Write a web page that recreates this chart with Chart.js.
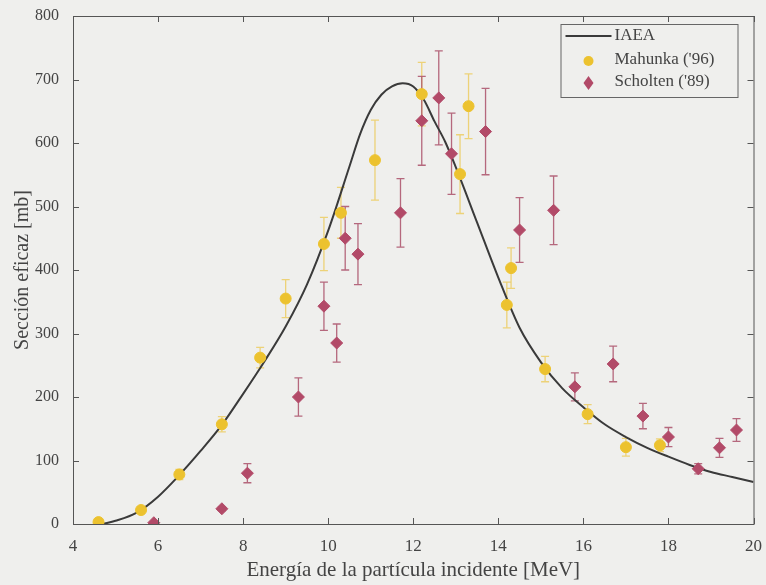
<!DOCTYPE html>
<html>
<head>
<meta charset="utf-8">
<script src="https://cdn.jsdelivr.net/npm/chart.js@4"></script>
<style>
html, body { margin: 0; padding: 0; background: #efefed; }
canvas { display: block; }
</style>
</head>
<body>
<canvas id="myChart" width="766" height="585"></canvas>
<script>
// curva IAEA
const iaeaE = [4.7, 5, 5.5, 6, 6.5, 7, 7.5, 8, 8.5, 9, 9.5, 10, 10.5, 10.75, 11, 11.25, 11.5, 11.75, 12, 12.25, 12.5, 12.75, 13, 13.5, 14, 14.5, 15, 15.5, 16, 16.5, 17, 17.5, 18, 18.5, 19, 19.5, 20];
const iaeaSigma = [0, 5, 18, 43, 77, 115, 156, 205, 256, 311, 377, 462, 563, 614, 652, 676, 689, 694, 689, 668, 634, 602, 562, 475, 388, 309, 255, 214, 184, 157, 137, 120, 106, 93, 82, 74, 66];

// Mahunka ('96)
const mahunkaE = [4.6, 5.6, 6.5, 7.5, 8.4, 9.0, 9.9, 10.3, 11.1, 12.2, 13.1, 13.3, 14.2, 14.3, 15.1, 16.1, 17.0, 17.8];
const mahunkaSigma = [3, 22, 78, 157, 262, 355, 441, 490, 573, 677, 551, 658, 345, 403, 244, 173, 121, 124];
const mahunkaErr = [2, 4, 8, 12, 16, 30, 42, 40, 63, 50, 62, 51, 36, 32, 20, 15, 14, 10];

// Scholten ('89)
const scholtenE = [5.9, 7.5, 8.1, 9.3, 9.9, 10.2, 10.4, 10.7, 11.7, 12.2, 12.6, 12.9, 13.7, 14.5, 15.3, 15.8, 16.7, 17.4, 18.0, 18.7, 19.2, 19.6];
const scholtenSigma = [2, 24, 80, 200, 343, 285, 450, 425, 490, 635, 671, 583, 618, 463, 494, 216, 252, 170, 137, 87, 120, 148];
const scholtenErr = [0, 3, 15, 30, 38, 30, 50, 48, 54, 70, 74, 64, 68, 51, 54, 22, 28, 20, 15, 8, 15, 18];

const xTicks = [4, 6, 8, 10, 12, 14, 16, 18, 20];
const yTicks = [0, 100, 200, 300, 400, 500, 600, 700, 800];

const amarillo = 'rgb(236,194,47)';
const granate = 'rgb(178,74,104)';
const serif = "'Liberation Serif', 'DejaVu Serif', serif";

function pares(xs, ys) {
    return xs.map((x, i) => ({ x: x, y: ys[i] }));
}

const barrasError = {
    id: 'barrasError',
    beforeDatasetsDraw(chart) {
        const ctx = chart.ctx, sx = chart.scales.x, sy = chart.scales.y;
        chart.data.datasets.forEach(ds => {
            if (!ds.errores) return;
            ctx.save();
            ctx.strokeStyle = ds.colorError;
            ctx.lineWidth = 1.3;
            ds.data.forEach((p, i) => {
                const e = ds.errores[i];
                if (!e) return;
                const px = sx.getPixelForValue(p.x);
                const y1 = sy.getPixelForValue(p.y + e);
                const y2 = sy.getPixelForValue(p.y - e);
                ctx.beginPath();
                ctx.moveTo(px, y1); ctx.lineTo(px, y2);
                ctx.moveTo(px - 4, y1); ctx.lineTo(px + 4, y1);
                ctx.moveTo(px - 4, y2); ctx.lineTo(px + 4, y2);
                ctx.stroke();
            });
            ctx.restore();
        });
    }
};

// caja y ticks hacia dentro, estilo matlab
const caja = {
    id: 'caja',
    afterDatasetsDraw(chart) {
        const ctx = chart.ctx, a = chart.chartArea, sx = chart.scales.x, sy = chart.scales.y;
        ctx.save();
        ctx.strokeStyle = '#555';
        ctx.lineWidth = 1;
        ctx.strokeRect(a.left + 0.5, a.top + 0.5, a.right - a.left, a.bottom - a.top);
        ctx.beginPath();
        xTicks.forEach(t => {
            const px = Math.round(sx.getPixelForValue(t)) + 0.5;
            ctx.moveTo(px, a.bottom); ctx.lineTo(px, a.bottom - 6);
            ctx.moveTo(px, a.top); ctx.lineTo(px, a.top + 6);
        });
        yTicks.forEach(t => {
            const py = Math.round(sy.getPixelForValue(t)) + 0.5;
            ctx.moveTo(a.left, py); ctx.lineTo(a.left + 6, py);
            ctx.moveTo(a.right, py); ctx.lineTo(a.right - 6, py);
        });
        ctx.stroke();
        ctx.restore();
    }
};

const leyenda = {
    id: 'leyenda',
    afterDraw(chart) {
        const ctx = chart.ctx, a = chart.chartArea;
        const x0 = a.right - 193, y0 = a.top + 8, w = 177, h = 73;
        ctx.save();
        ctx.fillStyle = '#efefed';
        ctx.fillRect(x0, y0, w, h);
        ctx.strokeStyle = '#666';
        ctx.lineWidth = 1;
        ctx.strokeRect(x0 + 0.5, y0 + 0.5, w, h);
        ctx.strokeStyle = '#3a3a3a';
        ctx.lineWidth = 2;
        ctx.beginPath();
        ctx.moveTo(x0 + 5, y0 + 12); ctx.lineTo(x0 + 51, y0 + 12);
        ctx.stroke();
        ctx.fillStyle = amarillo;
        ctx.beginPath();
        ctx.arc(x0 + 28, y0 + 37, 5, 0, Math.PI * 2);
        ctx.fill();
        ctx.fillStyle = granate;
        ctx.beginPath();
        ctx.moveTo(x0 + 28, y0 + 52); ctx.lineTo(x0 + 33, y0 + 59);
        ctx.lineTo(x0 + 28, y0 + 66); ctx.lineTo(x0 + 23, y0 + 59);
        ctx.closePath();
        ctx.fill();
        ctx.fillStyle = '#444';
        ctx.font = '17px ' + serif;
        ctx.textBaseline = 'middle';
        ctx.fillText('IAEA', x0 + 54, y0 + 12);
        ctx.fillText("Mahunka ('96)", x0 + 54, y0 + 36);
        ctx.fillText("Scholten ('89)", x0 + 54, y0 + 58);
        ctx.restore();
    }
};

const myChart = new Chart(document.getElementById('myChart'), {
    type: 'scatter',
    data: {
        datasets: [
            {
                label: 'IAEA',
                data: pares(iaeaE, iaeaSigma),
                showLine: true,
                borderColor: '#3a3a3a',
                borderWidth: 2,
                pointRadius: 0,
                cubicInterpolationMode: 'monotone',
                order: 3
            },
            {
                label: "Mahunka ('96)",
                data: pares(mahunkaE, mahunkaSigma),
                errores: mahunkaErr,
                colorError: 'rgba(236,200,80,0.75)',
                backgroundColor: amarillo,
                borderColor: amarillo,
                pointStyle: 'circle',
                pointRadius: 5.5,
                order: 2
            },
            {
                label: "Scholten ('89)",
                data: pares(scholtenE, scholtenSigma),
                errores: scholtenErr,
                colorError: 'rgba(170,80,105,0.85)',
                backgroundColor: granate,
                borderColor: granate,
                pointStyle: 'rectRot',
                pointRadius: 6,
                order: 1
            }
        ]
    },
    options: {
        responsive: false,
        animation: false,
        layout: { padding: { top: 16, right: 8, left: 0, bottom: 0 } },
        plugins: { legend: { display: false }, tooltip: { enabled: false } },
        scales: {
            x: {
                type: 'linear',
                min: 4, max: 20,
                afterBuildTicks: s => { s.ticks = xTicks.map(v => ({ value: v })); },
                afterFit: s => { s.height = 61; },
                grid: { display: false },
                border: { display: false },
                ticks: { color: '#444', font: { family: serif, size: 17 }, padding: 4 },
                title: {
                    display: true,
                    text: 'Energía de la partícula incidente [MeV]',
                    color: '#444',
                    font: { family: serif, size: 21 },
                    padding: { top: 0, bottom: 2 }
                }
            },
            y: {
                min: 0, max: 800,
                afterBuildTicks: s => { s.ticks = yTicks.map(v => ({ value: v })); },
                afterFit: s => { s.width = 73; },
                grid: { display: false },
                border: { display: false },
                ticks: { color: '#444', font: { family: serif, size: 16 }, padding: 6 },
                title: {
                    display: true,
                    text: 'Sección eficaz [mb]',
                    color: '#444',
                    font: { family: serif, size: 20 },
                    padding: { top: 11, bottom: 0 }
                }
            }
        }
    },
    plugins: [barrasError, caja, leyenda]
});
</script>
</body>
</html>
